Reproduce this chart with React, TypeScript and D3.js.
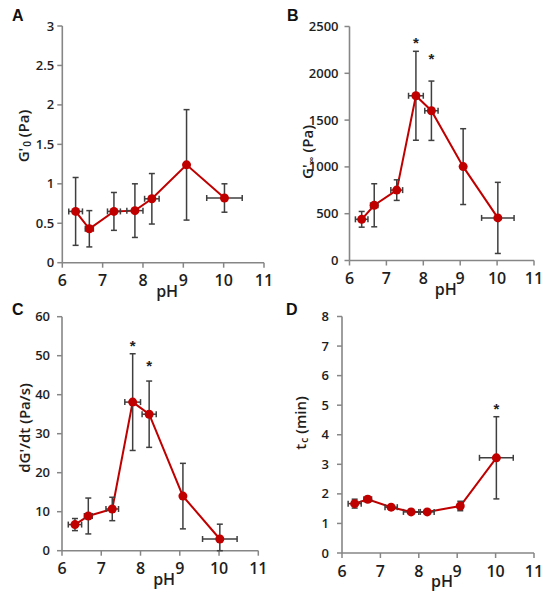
import React from 'react';
import * as d3 from 'd3';

// ---------- data ----------
const pH = [6.33, 6.67, 7.28, 7.8, 8.22, 9.08, 10.02];
const pHErr = [0.17, 0.1, 0.16, 0.2, 0.18, 0.05, 0.44];

const g0 = [0.65, 0.43, 0.65, 0.66, 0.81, 1.24, 0.82];
const g0Err = [0.43, 0.23, 0.24, 0.34, 0.32, 0.7, 0.18];

const gInf = [440, 590, 752, 1760, 1600, 1003, 455];
const gInfErr = [84, 230, 110, 475, 317, 405, 380];

const dGdt = [6.7, 8.9, 10.7, 38.1, 35.0, 14.0, 3.0];
const dGdtErr = [1.55, 4.6, 3.0, 12.4, 8.5, 8.4, 3.8];

const tc = [1.67, 1.82, 1.55, 1.39, 1.39, 1.59, 3.22];
const tcErr = [0.15, 0.09, 0.06, 0.08, 0.04, 0.16, 1.39];

const xTicks = [6, 7, 8, 9, 10, 11];
const aTicks = [0, 0.5, 1, 1.5, 2, 2.5, 3];
const bTicks = [0, 500, 1000, 1500, 2000, 2500];
const cTicks = [0, 10, 20, 30, 40, 50, 60];
const dTicks = [0, 1, 2, 3, 4, 5, 6, 7, 8];

const bStarX = [7.8, 8.22];
const bStarY = [2365, 2194];
const cStarX = [7.8, 8.22];
const cStarY = [53.5, 48.2];
const dStarX = [10.02];
const dStarY = [5.0];

// ---------- styles ----------
const RED = '#C00000';
const AXIS = '#868686';
const ERR = '#3f3f3f';
const TXT = '#1e1e1e';
const FONT = "'Open Sans', 'Liberation Sans', sans-serif";

type Layout = {
  x0: number; x1: number; yTop: number; yBot: number;
  gap: number; titleX: number; titleY: number; letterX: number; letterY: number;
};

type PanelDef = {
  letter: string;
  values: number[];
  errs: number[];
  ticks: number[];
  starX: number[];
  starY: number[];
  title: React.ReactNode;
  layout: Layout;
};

const sub = (main: string, s: string, rest: string) => (
  <>
    <tspan>{main}</tspan>
    <tspan dy={4} dx={1} fontSize="10">{s}</tspan>
    <tspan dy={-4}>{rest}</tspan>
  </>
);

const panels: PanelDef[] = [
  {
    letter: 'A', values: g0, errs: g0Err, ticks: aTicks, starX: [], starY: [],
    title: sub("G'", '0', ' (Pa)'),
    layout: { x0: 62.3, x1: 264, yTop: 26, yBot: 262.7, gap: 8, titleX: 23, titleY: 136, letterX: 12, letterY: 21 },
  },
  {
    letter: 'B', values: gInf, errs: gInfErr, ticks: bTicks, starX: bStarX, starY: bStarY,
    title: sub("G'", '\u221e', ' (Pa)'),
    layout: { x0: 349.5, x1: 534, yTop: 26.5, yBot: 260.5, gap: 11, titleX: 307, titleY: 152, letterX: 287, letterY: 21 },
  },
  {
    letter: 'C', values: dGdt, errs: dGdtErr, ticks: cTicks, starX: cStarX, starY: cStarY,
    title: <tspan>dG'/dt (Pa/s)</tspan>,
    layout: { x0: 62, x1: 258.3, yTop: 316.7, yBot: 550.7, gap: 12, titleX: 24, titleY: 428, letterX: 12, letterY: 315 },
  },
  {
    letter: 'D', values: tc, errs: tcErr, ticks: dTicks, starX: dStarX, starY: dStarY,
    title: sub('t', 'c', ' (min)'),
    layout: { x0: 342, x1: 534, yTop: 316.5, yBot: 553, gap: 13, titleX: 300, titleY: 423, letterX: 286, letterY: 315 },
  },
];

function Panel({ p }: { p: PanelDef }) {
  const L = p.layout;
  const yMax = p.ticks[p.ticks.length - 1];
  const x = d3.scaleLinear().domain([xTicks[0], xTicks[xTicks.length - 1]]).range([L.x0, L.x1]);
  const y = d3.scaleLinear().domain([0, yMax]).range([L.yBot, L.yTop]);
  const pts = pH.map((v, i) => ({ x: v, xe: pHErr[i], y: p.values[i], ye: p.errs[i] }));
  const line = d3.line<{ x: number; y: number }>().x(d => x(d.x)).y(d => y(d.y));
  const cap = 3;
  return (
    <g>
      {/* axes */}
      <line x1={L.x0} x2={L.x0} y1={L.yTop} y2={L.yBot} stroke={AXIS} strokeWidth={1.6} />
      <line x1={L.x0} x2={L.x1} y1={L.yBot} y2={L.yBot} stroke={AXIS} strokeWidth={1.6} />
      {p.ticks.map(t => (
        <g key={'yt' + t}>
          <line x1={L.x0 - 5} x2={L.x0} y1={y(t)} y2={y(t)} stroke={AXIS} strokeWidth={1.5} />
          <text x={L.x0 - L.gap} y={y(t)} dy="0.35em" textAnchor="end" fontSize={13} fontWeight={600} fill={TXT} fontFamily={FONT}>{t}</text>
        </g>
      ))}
      {xTicks.map(t => (
        <g key={'xt' + t}>
          <line x1={x(t)} x2={x(t)} y1={L.yBot} y2={L.yBot + 5} stroke={AXIS} strokeWidth={1.5} />
          <text x={x(t)} y={L.yBot + 23.5} textAnchor="middle" fontSize={16} fontWeight={600} fill={TXT} fontFamily={FONT}>{t}</text>
        </g>
      ))}
      <text x={(L.x0 + L.x1) / 2 + 4} y={L.yBot + 34} textAnchor="middle" fontSize={16} fontWeight={600} fill={TXT} fontFamily={FONT}>pH</text>
      <text transform={`translate(${L.titleX},${L.titleY}) rotate(-90)`} textAnchor="middle" dominantBaseline="central" fontSize={15} fontWeight={600} fill={TXT} fontFamily={FONT}>
        {p.title}
      </text>
      <text x={L.letterX} y={L.letterY} fontSize={16} fontWeight="bold" fill="#111" fontFamily="'Liberation Sans', Arial, sans-serif">{p.letter}</text>

      {/* series line */}
      <path d={line(pts) || ''} fill="none" stroke={RED} strokeWidth={2} />

      {/* error bars */}
      {pts.map((d, i) => {
        const cx = x(d.x), cy = y(d.y);
        const yl = y(Math.max(0, d.y - d.ye)), yh = y(Math.min(yMax, d.y + d.ye));
        const xl = x(d.x - d.xe), xh = x(d.x + d.xe);
        return (
          <g key={'e' + i} stroke={ERR} strokeWidth={1.5}>
            <line x1={cx} x2={cx} y1={yl} y2={yh} />
            <line x1={cx - cap} x2={cx + cap} y1={yl} y2={yl} />
            <line x1={cx - cap} x2={cx + cap} y1={yh} y2={yh} />
            <line x1={xl} x2={xh} y1={cy} y2={cy} />
            <line x1={xl} x2={xl} y1={cy - cap} y2={cy + cap} />
            <line x1={xh} x2={xh} y1={cy - cap} y2={cy + cap} />
          </g>
        );
      })}

      {/* markers */}
      {pts.map((d, i) => (
        <circle key={'m' + i} cx={x(d.x)} cy={y(d.y)} r={4.5} fill={RED} />
      ))}

      {/* significance stars */}
      {p.starX.map((sx, i) => (
        <text key={'s' + i} x={x(sx)} y={y(p.starY[i]) + 8.5} textAnchor="middle" fontSize={15} fontWeight="bold" fill="#222" fontFamily="'Liberation Sans', Arial, sans-serif">*</text>
      ))}
    </g>
  );
}

export default function App() {
  return (
    <svg width={551} height={600} style={{ position: 'absolute', left: 0, top: 0, background: '#fff' }}>
      <rect x={0} y={0} width={551} height={600} fill="#fff" />
      {panels.map(p => <Panel key={p.letter} p={p} />)}
    </svg>
  );
}
